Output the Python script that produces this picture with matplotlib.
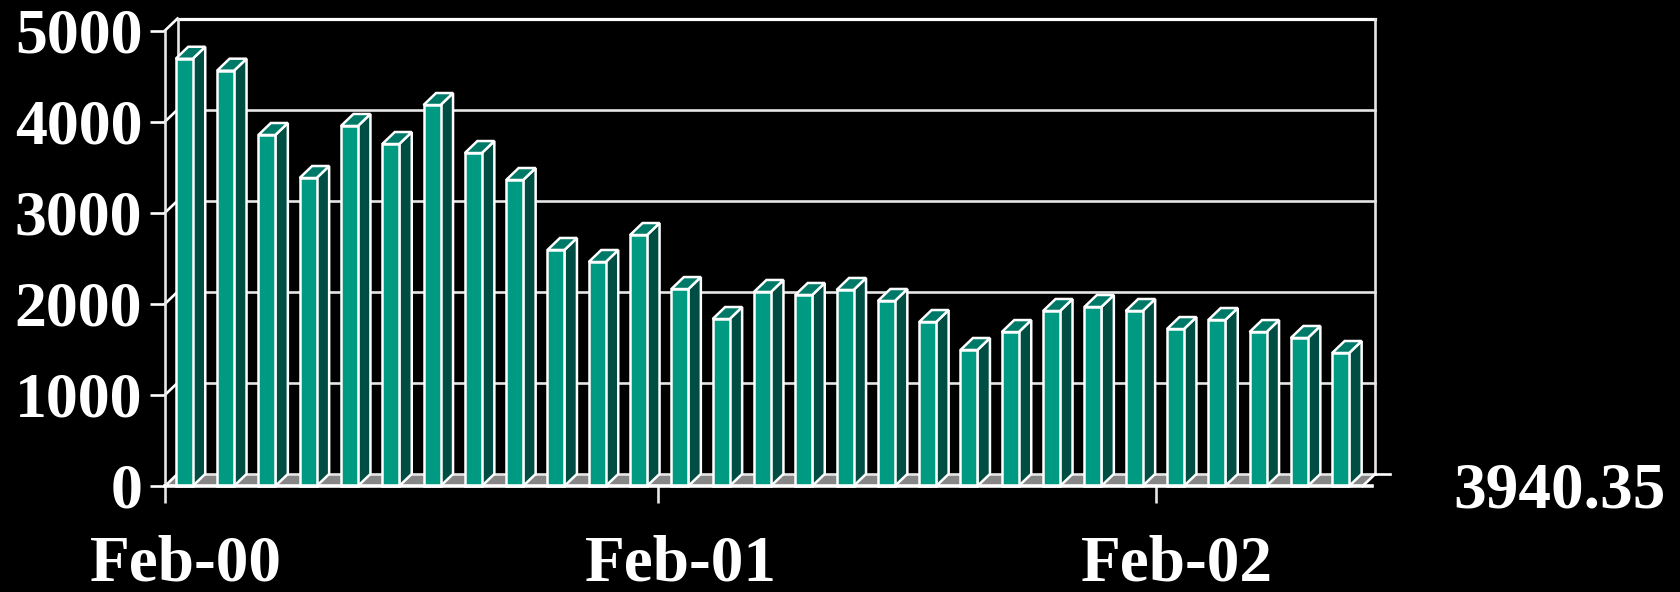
import matplotlib
matplotlib.use("Agg")
import matplotlib.pyplot as plt
from matplotlib.patches import Polygon

values = [4690, 4559, 3853, 3381, 3952, 3754, 4182, 3655, 3359, 2591,
          2459, 2755, 2162, 1833, 2130, 2097, 2152, 2031, 1800, 1493,
          1690, 1921, 1965, 1921, 1723, 1822, 1690, 1625, 1460]
y_ticks = [0, 1000, 2000, 3000, 4000, 5000]
x_label_positions = [0, 12, 24]
x_labels = ["Feb-00", "Feb-01", "Feb-02"]
x_tick_positions = [-0.5, 11.44, 23.5]
side_note = "3940.35"

FRONT, SIDE, TOP, FLOOR = "#009982", "#004D43", "#007A68", "#868686"
W, H = 1680, 592
plt.rcParams["font.family"] = ["Liberation Serif", "DejaVu Serif"]
plt.rcParams["font.weight"] = "bold"

fig = plt.figure(figsize=(W / 100, H / 100), dpi=100, facecolor="black")
L, R, B, T = 165, 1362.7, 486, 30.5
ax = fig.add_axes([L / W, 1 - B / H, (R - L) / W, (B - T) / H], facecolor="black")
xmin, xmax = -0.5, len(values) - 0.5
ax.set_xlim(xmin, xmax)
ax.set_ylim(0, 5000)

px_x = (xmax - xmin) / (R - L)
px_y = 5000 / (B - T)
dx, dy = 12.5 * px_x, 12 * px_y
bar_dx = 12.5 * px_x
bar_shift = -1.4 * px_x
wall_lw = 1.9
grid_c = "#E6E6E6"

# floor
ax.add_patch(Polygon([(xmin, 0), (xmin + dx, dy), (xmax + dx, dy), (xmax, 0)],
                     closed=True, fc=FLOOR, ec="none", zorder=1, clip_on=False))
# back wall and grid
for t in y_ticks:
    ax.plot([xmin, xmin + dx], [t, t + dy], color="white", lw=wall_lw, zorder=1.4, clip_on=False)
    ax.plot([xmin + dx, xmax + dx], [t + dy, t + dy],
            color="white" if t == 5000 else grid_c, lw=2.3 if t == 5000 else wall_lw,
            zorder=1.5, clip_on=False, solid_capstyle="projecting")
ax.plot([xmin + dx, xmin + dx], [0 + dy, 5000 + dy], color=grid_c, lw=wall_lw, zorder=1.5, clip_on=False)
ax.plot([xmax + dx, xmax + dx], [0 + dy, 5000 + dy], color=grid_c, lw=wall_lw, zorder=1.5, clip_on=False)
ax.plot([xmax, xmax + dx], [0, dy], color="white", lw=wall_lw, zorder=1.5, clip_on=False)
ax.plot([xmax + dx, xmax + dx + 15 * px_x], [dy, dy], color="white", lw=wall_lw, zorder=1.5, clip_on=False)

# bars
hw = 8.5 * px_x
for i, v in enumerate(values):
    z = 2 + i * 0.01
    c = i + bar_shift
    ec = dict(ec="white", lw=1.8, joinstyle="miter", zorder=z, clip_on=False)
    ax.add_patch(Polygon([(c + hw, 0), (c + hw + bar_dx, dy), (c + hw + bar_dx, v + dy), (c + hw, v)],
                         closed=True, fc=SIDE, **ec))
    ax.add_patch(Polygon([(c - hw, v), (c - hw + bar_dx, v + dy), (c + hw + bar_dx, v + dy), (c + hw, v)],
                         closed=True, fc=TOP, **ec))
    ax.add_patch(Polygon([(c - hw, 0), (c - hw, v), (c + hw, v), (c + hw, 0)],
                         closed=True, fc=FRONT, **ec))

# axes
for s in ("top", "right"):
    ax.spines[s].set_visible(False)
ax.spines["left"].set_color(grid_c)
ax.spines["left"].set_linewidth(wall_lw)
ax.spines["left"].set_zorder(3)
ax.spines["bottom"].set_color("white")
ax.spines["bottom"].set_linewidth(2.6)
ax.spines["bottom"].set_zorder(3)
ax.spines["bottom"].set_bounds(xmin, xmax + 9 * px_x)

FS = 47
ax.set_yticks(y_ticks)
ax.set_yticklabels([str(t) for t in y_ticks], fontsize=46, fontweight="bold", color="white")
ax.tick_params(axis="y", length=10.8, width=wall_lw, color="white", pad=5.5)
ax.set_xticks(x_tick_positions)
ax.set_xticklabels([])
ax.tick_params(axis="x", which="major", length=12, width=wall_lw, color=grid_c)
ax.set_xticks(x_label_positions, minor=True)
ax.set_xticklabels(x_labels, minor=True, fontsize=FS, fontweight="bold", color="white")
ax.tick_params(axis="x", which="minor", length=0, pad=35)

fig.text(1559.5 / W, 1 - 507 / H, side_note, fontsize=FS, fontweight="bold",
         color="white", ha="center", va="baseline")

fig.savefig("out.png", dpi=100, facecolor="black")
